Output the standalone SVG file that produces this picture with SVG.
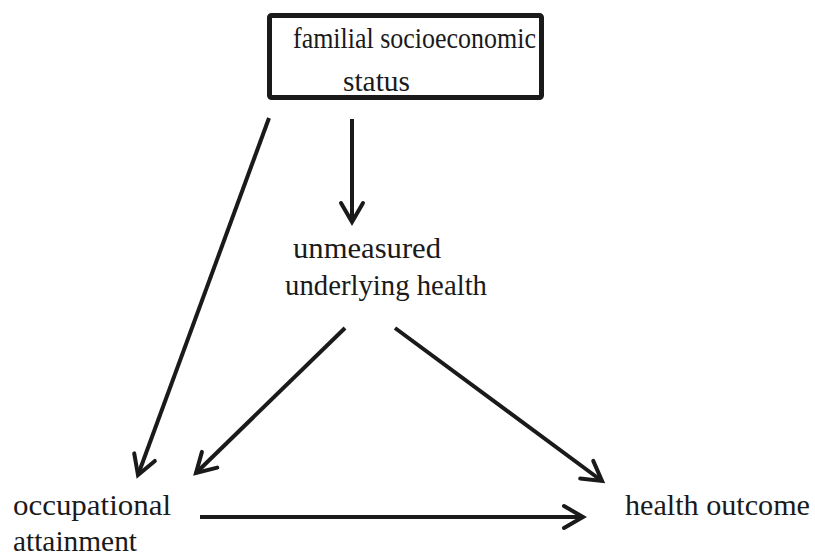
<svg xmlns="http://www.w3.org/2000/svg" width="815" height="558" viewBox="0 0 815 558">
<style>
.t{font-family:'Liberation Serif','Times New Roman',Times,serif;font-size:30px;fill:#1a1a1a}
.c{stroke:#1a1a1a;stroke-width:4;fill:none;marker-end:url(#ah)}
</style>
<defs>
<marker id="ah" markerUnits="userSpaceOnUse" viewBox="0 0 28 28" markerWidth="28" markerHeight="28" refX="23" refY="14" orient="auto">
<path d="M4,3 L23,14 L4,25" fill="none" stroke="#1a1a1a" stroke-width="4" stroke-linecap="round" stroke-linejoin="miter"/>
</marker>
</defs>
<rect width="815" height="558" fill="#fff"/>
<g id="fses">
<rect x="269.5" y="15.5" width="272" height="82" fill="none" stroke="#1a1a1a" stroke-width="5" rx="2"/>
<text class="t" font-family="Liberation Serif" x="293" y="48" textLength="243" lengthAdjust="spacingAndGlyphs">familial socioeconomic</text>
<text class="t" font-family="Liberation Serif" x="343" y="91" textLength="67" lengthAdjust="spacingAndGlyphs">status</text>
</g>
<g id="uuh">
<text class="t" font-family="Liberation Serif" x="293" y="258" textLength="148" lengthAdjust="spacingAndGlyphs">unmeasured</text>
<text class="t" font-family="Liberation Serif" x="285" y="295" textLength="202" lengthAdjust="spacingAndGlyphs">underlying health</text>
</g>
<g id="occ">
<text class="t" font-family="Liberation Serif" x="13" y="515" textLength="158" lengthAdjust="spacingAndGlyphs">occupational</text>
<text class="t" font-family="Liberation Serif" x="13" y="551" textLength="124" lengthAdjust="spacingAndGlyphs">attainment</text>
</g>
<g id="ho">
<text class="t" font-family="Liberation Serif" x="625" y="515" textLength="185" lengthAdjust="spacingAndGlyphs">health outcome</text>
</g>
<g id="connectors">
<line class="c" x1="352" y1="119" x2="352" y2="222"/>
<line class="c" x1="269" y1="118" x2="138" y2="475"/>
<line class="c" x1="345" y1="328" x2="196" y2="473"/>
<line class="c" x1="395" y1="328" x2="602" y2="481"/>
<line class="c" x1="200" y1="517" x2="583" y2="517"/>
</g>
</svg>
